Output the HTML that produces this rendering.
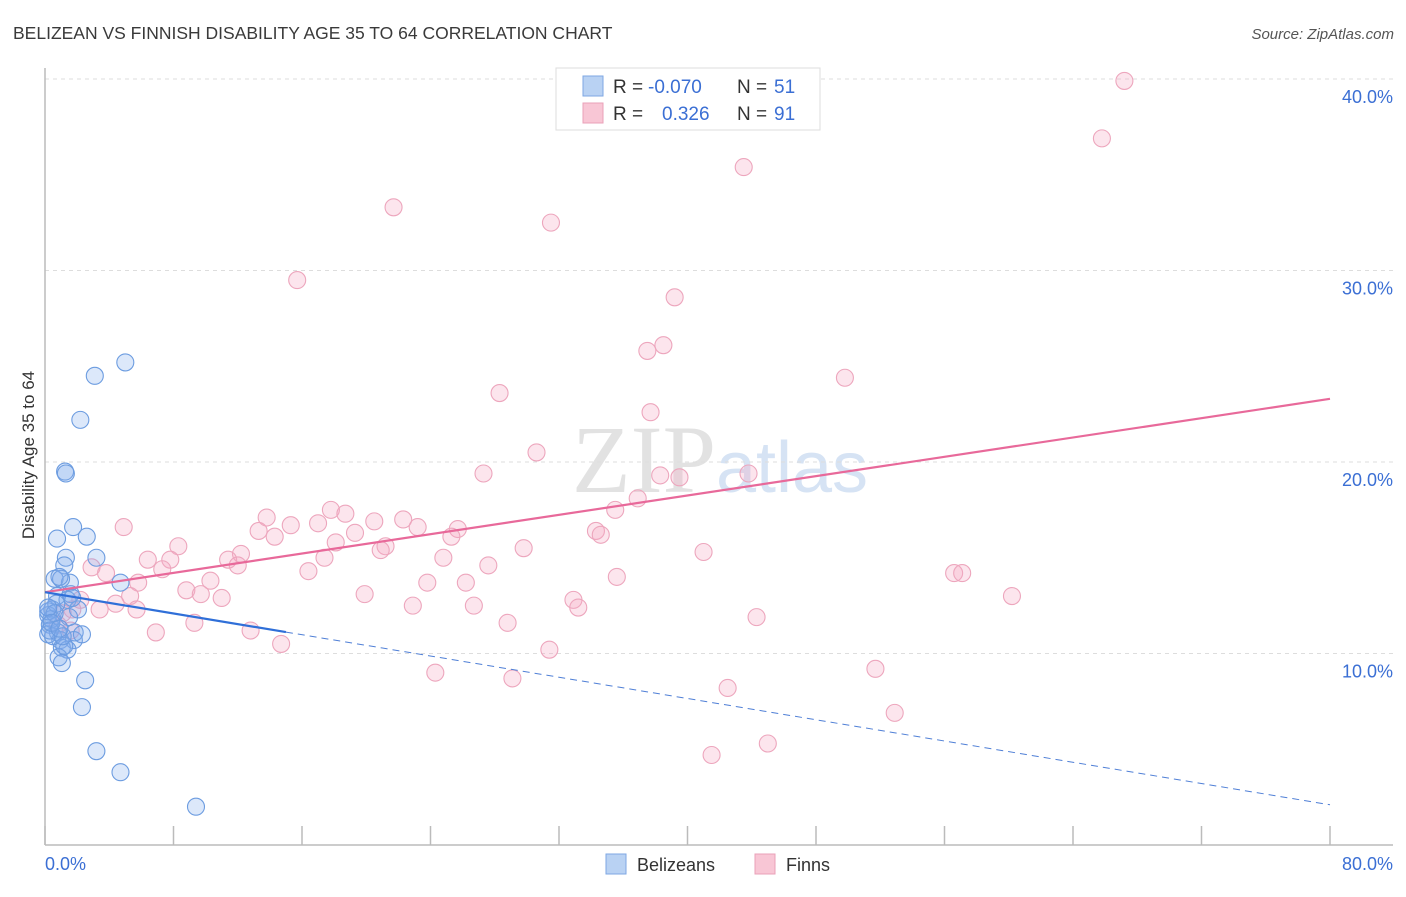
<!DOCTYPE html>
<html><head><meta charset="utf-8"><style>
body{margin:0;background:#fff;font-family:"Liberation Sans",sans-serif}
svg text{font-family:"Liberation Sans",sans-serif}
</style></head><body>
<svg id="chart" width="1406" height="892" viewBox="0 0 1406 892">
<text x="13" y="39" font-size="17.5" fill="#3a3a3a">BELIZEAN VS FINNISH DISABILITY AGE 35 TO 64 CORRELATION CHART</text>
<text x="1394" y="39" font-size="15" fill="#555" font-style="italic" text-anchor="end">Source: ZipAtlas.com</text>
<text x="720" y="492" font-size="96" text-anchor="middle"><tspan fill="#e2e2e2" font-family="Liberation Serif">ZIP</tspan><tspan fill="#d6e3f4" font-family="Liberation Sans" font-size="72">atlas</tspan></text>
<g id="grid"></g>
<line x1="45" y1="68" x2="45" y2="845" stroke="#bbb" stroke-width="1.5"/>
<line x1="45" y1="845" x2="1393" y2="845" stroke="#bbb" stroke-width="1.5"/>
<g id="xticks"></g>
<g id="ylabels"></g>
<text x="45" y="870" font-size="18" fill="#3b6fd4">0.0%</text>
<text x="1393" y="870" font-size="18" fill="#3b6fd4" text-anchor="end">80.0%</text>
<text transform="translate(34,455) rotate(-90)" font-size="17" fill="#333" text-anchor="middle">Disability Age 35 to 64</text>
<g id="pink"></g>
<g id="blue"></g>
<g id="lines"></g>
<g>
<rect x="556" y="68" width="264" height="62" fill="#fff" stroke="#ddd"/>
<rect x="583" y="76" width="20" height="20" fill="#b9d2f3" stroke="#7ea7e3"/>
<rect x="583" y="103" width="20" height="20" fill="#f8c6d5" stroke="#eaa0b8"/>
<text x="613" y="93" font-size="19" fill="#333">R =</text>
<text x="648" y="93" font-size="19" fill="#3b6fd4">-0.070</text>
<text x="737" y="93" font-size="19" fill="#333">N =</text>
<text x="774" y="93" font-size="19" fill="#3b6fd4">51</text>
<text x="613" y="120" font-size="19" fill="#333">R =</text>
<text x="662" y="120" font-size="19" fill="#3b6fd4">0.326</text>
<text x="737" y="120" font-size="19" fill="#333">N =</text>
<text x="774" y="120" font-size="19" fill="#3b6fd4">91</text>
</g>
<g>
<rect x="606" y="854" width="20" height="20" fill="#b9d2f3" stroke="#7ea7e3"/>
<text x="637" y="871" font-size="18" fill="#333">Belizeans</text>
<rect x="755" y="854" width="20" height="20" fill="#f8c6d5" stroke="#eaa0b8"/>
<text x="786" y="871" font-size="18" fill="#333">Finns</text>
</g>
</svg>
<script>
const yTicks=[10,20,30,40];
const yTickLabels=["10.0%","20.0%","30.0%","40.0%"];
const xTicks=[0,8,16,24,32,40,48,56,64,72,80];
const blueX=[5.0,3.1,2.2,1.25,1.3,0.75,1.75,2.6,1.3,3.2,1.2,0.6,1.55,4.7,0.75,1.6,1.4,0.45,2.05,0.2,0.3,0.8,1.85,0.95,0.2,1.8,1.05,1.4,0.85,1.05,2.5,2.3,3.2,4.7,9.4,0.4,0.2,1.0,0.5,2.3,1.2,0.7,0.9,0.3,1.5,0.6,1.1,0.2,0.4,0.9,1.7];
const blueY=[25.2,24.5,22.2,19.5,19.4,16.0,16.6,16.1,15.0,15.0,14.6,13.9,13.7,13.7,13.0,13.1,12.8,12.3,12.3,12.0,11.5,11.1,11.1,10.7,11.0,10.7,10.3,10.2,9.8,9.5,8.6,7.2,4.9,3.8,2.0,11.8,12.2,13.9,10.9,11.0,10.4,12.6,14.0,11.2,11.9,12.1,10.9,12.4,11.6,11.3,12.9];
const pinkX=[67.2,65.8,43.5,21.7,31.5,15.7,39.2,38.5,37.5,49.8,28.3,37.7,30.6,27.3,38.3,39.5,43.8,36.9,35.5,17.8,18.7,13.8,20.5,22.3,15.3,17.0,25.7,13.3,14.3,19.3,23.2,25.3,18.1,21.2,34.3,34.6,4.9,8.3,12.2,20.9,29.8,41.0,6.4,7.8,11.4,12.0,17.4,24.8,27.6,2.9,3.8,7.3,16.4,56.6,57.1,5.8,10.3,23.8,26.2,35.6,8.8,9.7,11.0,5.3,19.9,32.9,60.2,4.4,22.9,26.7,33.2,5.7,3.4,44.3,28.8,9.3,12.8,6.9,14.7,31.4,51.7,24.3,29.1,42.5,52.9,45.0,41.5,1.7,2.2,1.1,0.8,1.6];
const pinkY=[39.9,36.9,35.4,33.3,32.5,29.5,28.6,26.1,25.8,24.4,23.6,22.6,20.5,19.4,19.3,19.2,19.4,18.1,17.5,17.5,17.3,17.1,16.9,17.0,16.7,16.8,16.5,16.4,16.1,16.3,16.6,16.1,15.8,15.6,16.4,16.2,16.6,15.6,15.2,15.4,15.5,15.3,14.9,14.9,14.9,14.6,15.0,15.0,14.6,14.5,14.2,14.4,14.3,14.2,14.2,13.7,13.8,13.7,13.7,14.0,13.3,13.1,12.9,13.0,13.1,12.8,13.0,12.6,12.5,12.5,12.4,12.3,12.3,11.9,11.6,11.6,11.2,11.1,10.5,10.2,9.2,9.0,8.7,8.2,6.9,5.3,4.7,12.3,12.8,12.1,11.5,11.2];
const blueTrend=[13.2,2.1];
const pinkTrend=[13.2,23.3];
const blueSolidEnd=15;
const NS="http://www.w3.org/2000/svg";
const sx=v=>45+v*(1330-45)/80;
const sy=v=>845-v*19.15;
function mk(tag,attrs,parent){const e=document.createElementNS(NS,tag);for(const k in attrs)e.setAttribute(k,attrs[k]);parent.appendChild(e);return e;}
const grid=document.getElementById('grid'),yl=document.getElementById('ylabels'),xt=document.getElementById('xticks');
yTicks.forEach((t,i)=>{
 const l=mk('line',{x1:45,x2:1393,y1:sy(t),y2:sy(t),stroke:'#ddd','stroke-dasharray':'4,4'},grid);
 
 
 const tx=mk('text',{x:1393,y:sy(t)+24,'font-size':18,fill:'#3b6fd4','text-anchor':'end'},yl);
 tx.textContent=yTickLabels[i];
 
 
});
xTicks.forEach(t=>{
 const l=mk('line',{x1:sx(t),x2:sx(t),y1:826,y2:845,stroke:'#bbb','stroke-width':1.5},xt);
 
 
});
const pg=document.getElementById('pink');
pinkX.forEach((x,i)=>{
 const c=mk('circle',{cx:sx(x),cy:sy(pinkY[i]),r:8.5,fill:'rgba(245,170,195,0.3)',stroke:'#eda6bd','stroke-width':1.1},pg);
 
 
});
const bg=document.getElementById('blue');
blueX.forEach((x,i)=>{
 const c=mk('circle',{cx:sx(x),cy:sy(blueY[i]),r:8.5,fill:'rgba(130,172,236,0.28)',stroke:'#6c9ce0','stroke-width':1.1},bg);
 
 
});
const lg=document.getElementById('lines');
const bAt=x=>blueTrend[0]+(blueTrend[1]-blueTrend[0])*x/80;
const l1=mk('line',{x1:sx(0),y1:sy(pinkTrend[0]),x2:sx(80),y2:sy(pinkTrend[1]),stroke:'#e8699a','stroke-width':2.2},lg);


const l2=mk('line',{x1:sx(blueSolidEnd),y1:sy(bAt(blueSolidEnd)),x2:sx(80),y2:sy(bAt(80)),stroke:'#4f7fd6','stroke-width':1,'stroke-dasharray':'7,5'},lg);


const l3=mk('line',{x1:sx(0),y1:sy(bAt(0)),x2:sx(blueSolidEnd),y2:sy(bAt(blueSolidEnd)),stroke:'#2f6fd8','stroke-width':2.2},lg);


</script>
</body></html>
